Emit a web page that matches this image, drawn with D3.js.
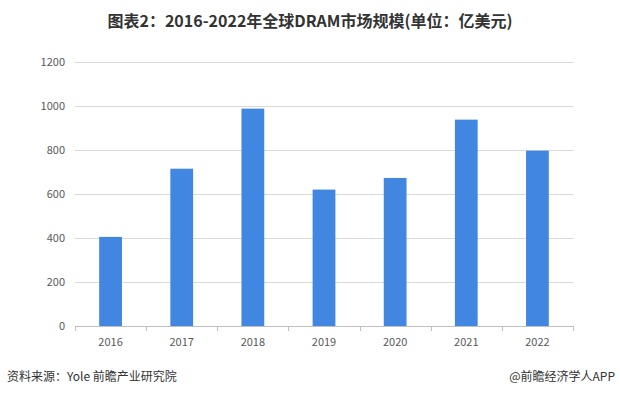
<!DOCTYPE html>
<meta charset="utf-8">
<script src="https://d3js.org/d3.v7.min.js"></script>
<style>
  body { margin: 0; background: #fff; }
  text { font-family: "Microsoft YaHei", "Noto Sans CJK SC", sans-serif; }
</style>
<div id="chart"></div>
<script>
  // data
  var years = ["2016", "2017", "2018", "2019", "2020", "2021", "2022"];
  var values = [405, 715, 988, 620, 673, 938, 797];
  var yTicks = [0, 200, 400, 600, 800, 1000, 1200];

  var W = 620, H = 398;
  var margin = {top: 62, right: 47, bottom: 72, left: 75};
  var width = W - margin.left - margin.right,
      height = H - margin.top - margin.bottom;

  var svg = d3.select("#chart").append("svg")
      .attr("width", W)
      .attr("height", H);

  // title
  svg.append("text")
      .attr("x", W / 2)
      .attr("y", 27)
      .attr("text-anchor", "middle")
      .style("font-size", "16px")
      .style("font-weight", "bold")
      .style("fill", "#333")
      .text("图表2：2016-2022年全球DRAM市场规模(单位：亿美元)");

  var g = svg.append("g")
      .attr("transform", "translate(" + margin.left + "," + margin.top + ")");

  var x = d3.scaleBand()
      .domain(years)
      .range([0, width])
      .paddingInner(0.68)
      .paddingOuter(0.34);

  var y = d3.scaleLinear()
      .domain([0, 1200])
      .range([height, 0]);

  // gridlines
  g.selectAll(".grid")
    .data(yTicks.filter(function(d) { return d > 0; }))
    .enter().append("line")
      .attr("x1", 0)
      .attr("x2", width)
      .attr("y1", function(d) { return y(d) + 0.5; })
      .attr("y2", function(d) { return y(d) + 0.5; })
      .style("stroke", "#d9d9d9")
      .style("stroke-width", 1);

  // y axis labels
  var yAxis = g.append("g")
      .call(d3.axisLeft(y).tickValues(yTicks).tickFormat(d3.format("d"))
        .tickSize(0).tickPadding(10));
  yAxis.select(".domain").remove();
  yAxis.selectAll("text")
      .style("font-size", "11px")
      .style("fill", "#595959");

  // bars
  g.selectAll(".bar")
    .data(values)
    .enter().append("rect")
      .attr("x", function(d, i) { return x(years[i]); })
      .attr("width", x.bandwidth())
      .attr("y", function(d) { return y(d); })
      .attr("height", function(d) { return height - y(d); })
      .style("fill", "#4186e0");

  // x axis with ticks at band edges
  var xAxis = g.append("g")
      .attr("transform", "translate(0," + height + ")");
  xAxis.append("line")
      .attr("x1", 0).attr("x2", width)
      .attr("y1", 0.5).attr("y2", 0.5)
      .style("stroke", "#bfbfbf");
  var step = width / years.length;
  xAxis.selectAll(".tk")
    .data(d3.range(years.length + 1))
    .enter().append("line")
      .attr("x1", function(d) { return Math.round(d * step) + 0.5; })
      .attr("x2", function(d) { return Math.round(d * step) + 0.5; })
      .attr("y1", 0)
      .attr("y2", 5)
      .style("stroke", "#bfbfbf");
  xAxis.selectAll(".lbl")
    .data(years)
    .enter().append("text")
      .attr("x", function(d) { return x(d) + x.bandwidth() / 2; })
      .attr("y", 20)
      .attr("text-anchor", "middle")
      .style("font-size", "11px")
      .style("fill", "#595959")
      .text(function(d) { return d; });

  // footer
  svg.append("text")
      .attr("x", 7)
      .attr("y", 381)
      .style("font-size", "12px")
      .style("fill", "#333")
      .text("资料来源：Yole 前瞻产业研究院");
  svg.append("text")
      .attr("x", 615)
      .attr("y", 381)
      .attr("text-anchor", "end")
      .style("font-size", "12px")
      .style("fill", "#333")
      .text("@前瞻经济学人APP");
</script>
